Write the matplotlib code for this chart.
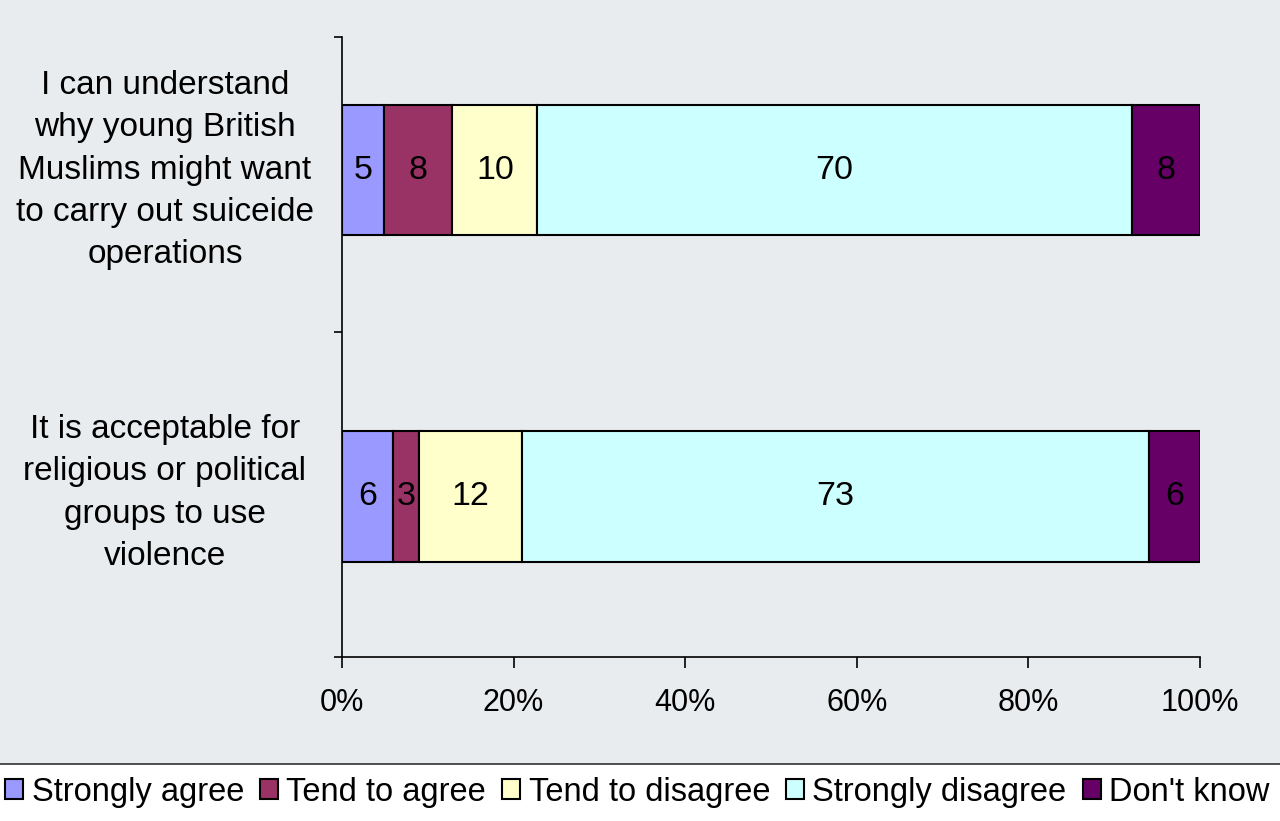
import numpy as np
import matplotlib.pyplot as plt

plt.rcParams['font.family'] = ['Liberation Sans', 'DejaVu Sans']

# survey data (raw answers, bars are scaled to 100%)
questions = [
    "It is acceptable for\nreligious or political\ngroups to use\nviolence",
    "I can understand\nwhy young British\nMuslims might want\nto carry out suiceide\noperations",
]
answers = ["Strongly agree", "Tend to agree", "Tend to disagree",
           "Strongly disagree", "Don't know"]
strongly_agree = [6, 5]
tend_agree = [3, 8]
tend_disagree = [12, 10]
strongly_disagree = [73, 70]
dont_know = [6, 8]
colors = ["#9999FF", "#993366", "#FFFFCC", "#CCFFFF", "#660066"]

values = np.array([strongly_agree, tend_agree, tend_disagree,
                   strongly_disagree, dont_know], dtype=float)
shares = values / values.sum(axis=0) * 100

bg = "#E9ECEE"
fig = plt.figure(figsize=(12.8, 8.21), dpi=100, facecolor=bg)
ax = fig.add_axes([342 / 1280, 1 - 657 / 821, 858 / 1280, 620 / 821])
ax.set_facecolor(bg)

y = np.arange(len(questions))
left = np.zeros(len(questions))
for i, name in enumerate(answers):
    ax.barh(y, shares[i], left=left, height=0.4, color=colors[i],
            edgecolor="black", linewidth=1.5, label=name)
    for j in range(len(questions)):
        ax.text(left[j] + shares[i, j] / 2, y[j], "%d" % values[i, j],
                ha="center", va="center", fontsize=24.5, color="black")
    left += shares[i]

ax.set_xlim(0, 100)
ax.set_ylim(-0.49, 1.407)
ax.set_xticks(np.arange(0, 101, 20))
ax.set_xticklabels(["%d%%" % v for v in range(0, 101, 20)], fontsize=22)
ax.set_yticks([-0.49, 0.505, 1.407])
ax.set_yticklabels([])
ax.tick_params(axis="x", direction="out", length=8, width=1.2, pad=14)
ax.tick_params(axis="y", direction="out", length=6, width=1.2)

for s in ["top", "right"]:
    ax.spines[s].set_visible(False)
for s in ["left", "bottom"]:
    ax.spines[s].set_linewidth(1.2)

for j, q in enumerate(questions):
    ax.text(-0.2063, y[j] + 0.012 * (1 - j), q,
            transform=ax.get_yaxis_transform(),
            ha="center", va="center", fontsize=24, linespacing=1.47)

# white legend strip at the bottom
strip = plt.Rectangle((0, 0), 1, 57 / 821, transform=fig.transFigure,
                      facecolor="white", edgecolor="none", zorder=0)
fig.patches.append(strip)
fig.add_artist(plt.Line2D([0, 1], [57 / 821, 57 / 821], color="#333333",
                          linewidth=1.2, transform=fig.transFigure))

fig.legend(loc="center", bbox_to_anchor=(0.498, 29 / 821), ncol=5,
           frameon=False, fontsize=23.5, handlelength=0.55, handleheight=0.55,
           handletextpad=0.25, columnspacing=0.5, borderaxespad=0)

fig.savefig("out.png", dpi=100, facecolor=bg)
